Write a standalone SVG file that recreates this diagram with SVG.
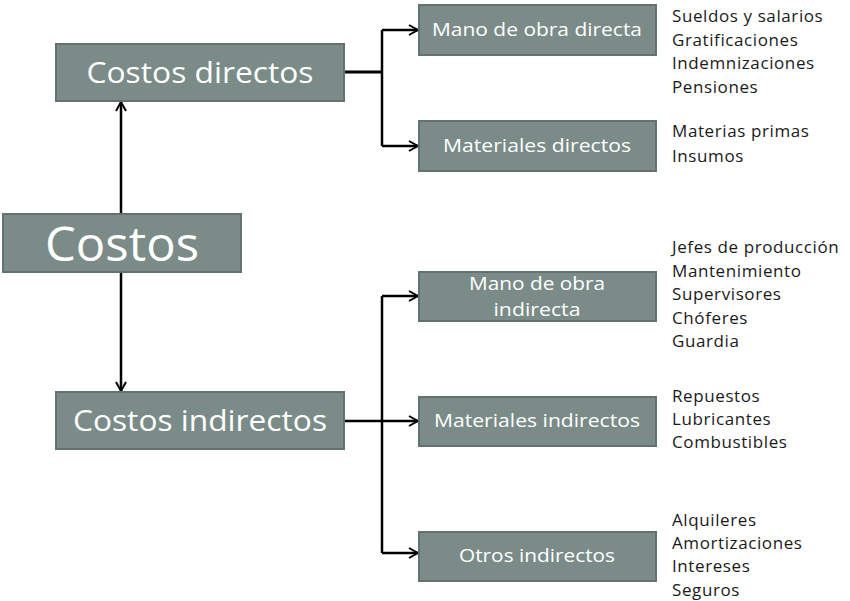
<svg xmlns="http://www.w3.org/2000/svg" width="850" height="601" viewBox="0 0 850 601">
<style>
.box{fill:#7b8b88;stroke:#63726f;stroke-width:2}
.bt{fill:#ffffff;font-family:"Open Sans",Lato,"Liberation Sans",sans-serif;text-anchor:middle}
.it{fill:#1a1a1a;font-family:"Open Sans",Lato,"Liberation Sans",sans-serif;font-size:17px;letter-spacing:0.6px}
.ln{fill:none;stroke:#000;stroke-width:2.5}
</style>
<defs>
<marker id="ar" viewBox="0 0 12 12" refX="11" refY="6" markerWidth="12" markerHeight="12" markerUnits="userSpaceOnUse" orient="auto">
<path d="M2,1 L11,6 L2,11" fill="none" stroke="#000" stroke-width="2"/>
</marker>
</defs>
<rect width="850" height="601" fill="#ffffff"/>
<g id="connectors">
<path class="ln" d="M121,214 V102" marker-end="url(#ar)"/>
<path class="ln" d="M121,272 V391" marker-end="url(#ar)"/>
<path class="ln" d="M344,72 H382" style="stroke-width:3"/>
<path class="ln" d="M382,30 V146"/>
<path class="ln" d="M382,30 H418" marker-end="url(#ar)"/>
<path class="ln" d="M382,146 H418" marker-end="url(#ar)"/>
<path class="ln" d="M344,421 H418" marker-end="url(#ar)"/>
<path class="ln" d="M382,296 V553"/>
<path class="ln" d="M382,296 H418" marker-end="url(#ar)"/>
<path class="ln" d="M382,553 H418" marker-end="url(#ar)"/>
</g>
<g id="costos">
<rect class="box" x="3" y="214" width="238" height="58"/>
<text class="bt" x="122" y="261" font-size="47" textLength="154" lengthAdjust="spacingAndGlyphs">Costos</text>
</g>
<g id="costos-directos">
<rect class="box" x="56" y="44" width="288" height="57"/>
<text class="bt" x="200" y="83" font-size="29" textLength="227" lengthAdjust="spacingAndGlyphs">Costos directos</text>
</g>
<g id="costos-indirectos">
<rect class="box" x="56" y="392" width="288" height="57"/>
<text class="bt" x="200" y="431" font-size="29" textLength="254" lengthAdjust="spacingAndGlyphs">Costos indirectos</text>
</g>
<g id="mano-directa">
<rect class="box" x="419" y="5" width="237" height="50"/>
<text class="bt" x="537" y="36" font-size="17.5" textLength="210" lengthAdjust="spacingAndGlyphs">Mano de obra directa</text>
</g>
<g id="materiales-directos">
<rect class="box" x="419" y="121" width="237" height="50"/>
<text class="bt" x="537" y="152" font-size="17.5" textLength="188" lengthAdjust="spacingAndGlyphs">Materiales directos</text>
</g>
<g id="mano-indirecta">
<rect class="box" x="419" y="272" width="237" height="49"/>
<text class="bt" x="537" y="290" font-size="17.5" textLength="136" lengthAdjust="spacingAndGlyphs">Mano de obra</text>
<text class="bt" x="537" y="316" font-size="17.5" textLength="87" lengthAdjust="spacingAndGlyphs">indirecta</text>
</g>
<g id="materiales-indirectos">
<rect class="box" x="419" y="397" width="237" height="49"/>
<text class="bt" x="537" y="427" font-size="17.5" textLength="206" lengthAdjust="spacingAndGlyphs">Materiales indirectos</text>
</g>
<g id="otros-indirectos">
<rect class="box" x="419" y="532" width="237" height="49"/>
<text class="bt" x="537" y="562" font-size="17.5" textLength="156" lengthAdjust="spacingAndGlyphs">Otros indirectos</text>
</g>
<g id="items-mano-directa">
<text class="it" x="672" y="22">Sueldos y salarios</text>
<text class="it" x="672" y="46">Gratificaciones</text>
<text class="it" x="672" y="69">Indemnizaciones</text>
<text class="it" x="672" y="93">Pensiones</text>
</g>
<g id="items-materiales-directos">
<text class="it" x="672" y="137">Materias primas</text>
<text class="it" x="672" y="162">Insumos</text>
</g>
<g id="items-mano-indirecta">
<text class="it" x="672" y="253">Jefes de producción</text>
<text class="it" x="672" y="277">Mantenimiento</text>
<text class="it" x="672" y="300">Supervisores</text>
<text class="it" x="672" y="324">Chóferes</text>
<text class="it" x="672" y="347">Guardia</text>
</g>
<g id="items-materiales-indirectos">
<text class="it" x="672" y="402">Repuestos</text>
<text class="it" x="672" y="425">Lubricantes</text>
<text class="it" x="672" y="448">Combustibles</text>
</g>
<g id="items-otros">
<text class="it" x="672" y="526">Alquileres</text>
<text class="it" x="672" y="549">Amortizaciones</text>
<text class="it" x="672" y="572">Intereses</text>
<text class="it" x="672" y="596">Seguros</text>
</g>
</svg>
